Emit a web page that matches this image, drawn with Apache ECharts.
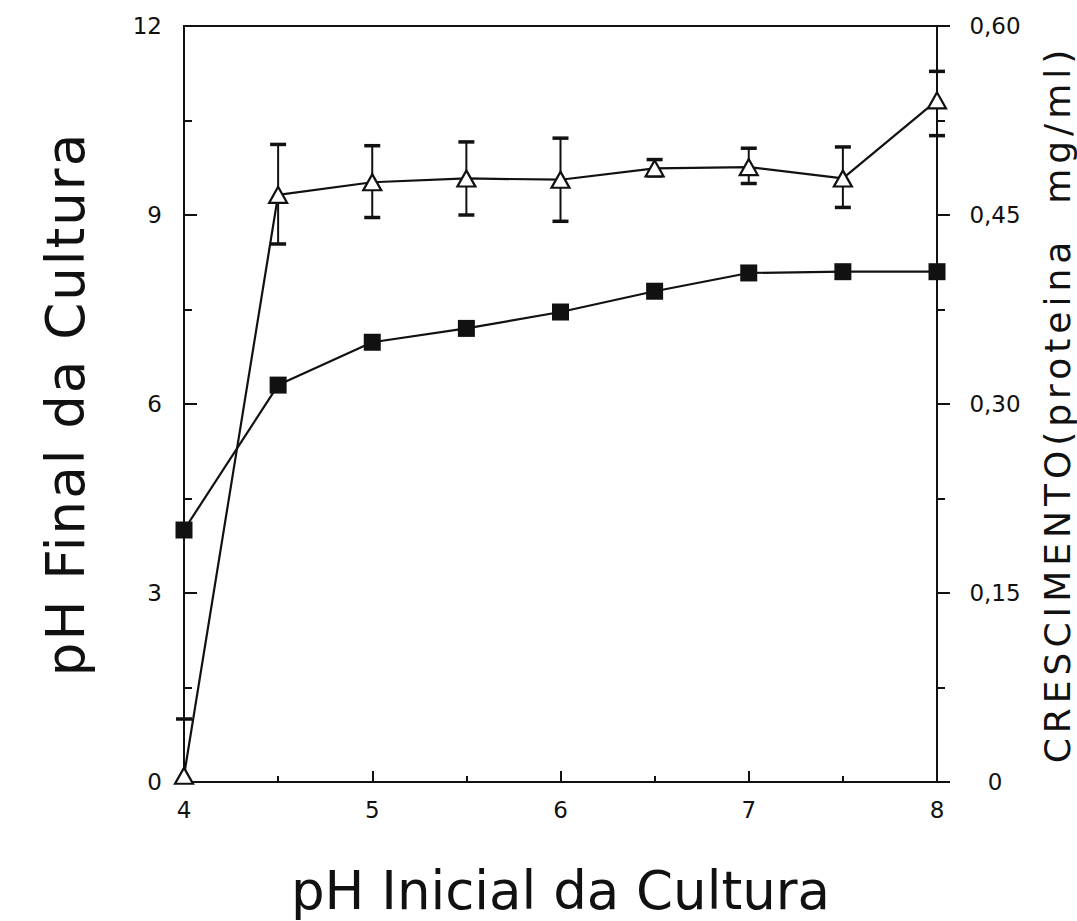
<!DOCTYPE html>
<html>
<head>
<meta charset="utf-8">
<script src="https://cdn.jsdelivr.net/npm/echarts@6/dist/echarts.min.js"></script>
<style>
  html, body { margin: 0; padding: 0; background: #fff; overflow: hidden; }
  #chart { width: 1077px; height: 921px; }
</style>
</head>
<body>
<div id="chart"></div>
<script>
// Initial culture pH (x axis)
const phInicial = [4, 4.5, 5, 5.5, 6, 6.5, 7, 7.5, 8];
// Final culture pH (left axis, filled squares)
const phFinal = [4.0, 6.3, 6.98, 7.2, 7.46, 7.79, 8.08, 8.1, 8.1];
// Growth, protein mg/ml (right axis, open triangles)
const crescimento = [0.005, 0.466, 0.476, 0.479, 0.478, 0.487, 0.488, 0.479, 0.541];
// Error bar limits for growth
const crescSup = [0.050, 0.506, 0.505, 0.508, 0.511, 0.494, 0.503, 0.504, 0.564];
const crescInf = [0.000, 0.427, 0.448, 0.450, 0.445, 0.481, 0.475, 0.456, 0.513];

const nomeX = 'pH Inicial da Cultura';
const nomeY = 'pH Final da Cultura';
const nomeY2 = 'CRESCIMENTO(proteina\u00a0 mg/ml)';

const FONT = 'DejaVu Sans';
const INK = '#111';

const chart = echarts.init(document.getElementById('chart'), null, { renderer: 'svg' });

const errData = phInicial.map((x, i) => [x, crescInf[i], crescSup[i]]);

chart.setOption({
  backgroundColor: '#fff',
  animation: false,
  grid: {
    left: 184, right: 140, top: 26, bottom: 139,
    outerBoundsMode: 'none', containLabel: false,
    show: true, borderColor: INK, borderWidth: 2, backgroundColor: 'transparent'
  },
  xAxis: {
    type: 'value', min: 4, max: 8, interval: 1,
    name: nomeX, nameLocation: 'middle', nameGap: 82,
    nameTextStyle: { fontFamily: FONT, fontSize: 53, color: INK },
    axisLine: { show: true, lineStyle: { color: INK, width: 2 } },
    axisTick: { show: true, inside: true, length: 11, lineStyle: { color: INK, width: 2 } },
    minorTick: { show: true, splitNumber: 2, length: 6, lineStyle: { color: INK, width: 2 } },
    splitLine: { show: false },
    axisLabel: { margin: 16, fontFamily: FONT, fontSize: 23, color: INK }
  },
  yAxis: [
    {
      type: 'value', min: 0, max: 12, interval: 3, position: 'left',
      name: nomeY, nameLocation: 'middle', nameGap: 92,
      nameTextStyle: { fontFamily: FONT, fontSize: 53, color: INK },
      axisLine: { show: true, lineStyle: { color: INK, width: 2 } },
      axisTick: { show: true, inside: true, length: 13, lineStyle: { color: INK, width: 2 } },
      minorTick: { show: true, splitNumber: 2, length: 8, lineStyle: { color: INK, width: 2 } },
      splitLine: { show: false },
      axisLabel: { margin: 22, fontFamily: FONT, fontSize: 23, color: INK }
    },
    {
      type: 'value', min: 0, max: 0.6, interval: 0.15, position: 'right',
      name: nomeY2, nameLocation: 'middle', nameGap: 102, nameRotate: 90,
      nameTextStyle: { fontFamily: FONT, fontSize: 36, color: INK },
      axisLine: { show: true, lineStyle: { color: INK, width: 2 } },
      axisTick: { show: true, inside: false, length: 13, lineStyle: { color: INK, width: 2 } },
      minorTick: { show: true, splitNumber: 2, length: 8, lineStyle: { color: INK, width: 2 } },
      splitLine: { show: false },
      axisLabel: {
        margin: 58, align: 'center', fontFamily: FONT, fontSize: 23, color: INK,
        formatter: v => v === 0 ? '0' : v.toFixed(2).replace('.', ',')
      }
    }
  ],
  series: [
    {
      name: 'erro',
      type: 'custom',
      yAxisIndex: 1,
      z: 1,
      data: errData,
      renderItem: (params, api) => {
        const x = api.value(0);
        const lo = api.coord([x, api.value(1)]);
        const hi = api.coord([x, api.value(2)]);
        const half = 8;
        return {
          type: 'group',
          children: [
            { type: 'line', shape: { x1: lo[0], y1: lo[1], x2: hi[0], y2: hi[1] }, style: { stroke: INK, lineWidth: 2 } },
            { type: 'line', shape: { x1: hi[0] - half, y1: hi[1], x2: hi[0] + half, y2: hi[1] }, style: { stroke: INK, lineWidth: 3.5 } },
            { type: 'line', shape: { x1: lo[0] - half, y1: lo[1], x2: lo[0] + half, y2: lo[1] }, style: { stroke: INK, lineWidth: 3.5 } }
          ]
        };
      }
    },
    {
      name: 'pH final',
      type: 'line',
      yAxisIndex: 0,
      z: 3,
      data: phInicial.map((x, i) => [x, phFinal[i]]),
      symbol: 'rect', symbolSize: 17,
      itemStyle: { color: INK },
      lineStyle: { color: INK, width: 2.2 }
    },
    {
      name: 'crescimento',
      type: 'line',
      yAxisIndex: 1,
      z: 4,
      data: phInicial.map((x, i) => [x, crescimento[i]]),
      symbol: 'triangle', symbolSize: [18, 16],
      itemStyle: { color: '#fff', borderColor: INK, borderWidth: 2.2 },
      lineStyle: { color: INK, width: 2.2 }
    }
  ]
});

// Spread out the letters of the vertical axis titles
function espacarTitulos() {
  document.querySelectorAll('#chart text').forEach(t => {
    if (t.textContent === nomeY2) t.style.letterSpacing = '5px';
    if (t.textContent === nomeY) t.style.letterSpacing = '2px';
  });
}
chart.on('finished', espacarTitulos);
espacarTitulos();
</script>
</body>
</html>
